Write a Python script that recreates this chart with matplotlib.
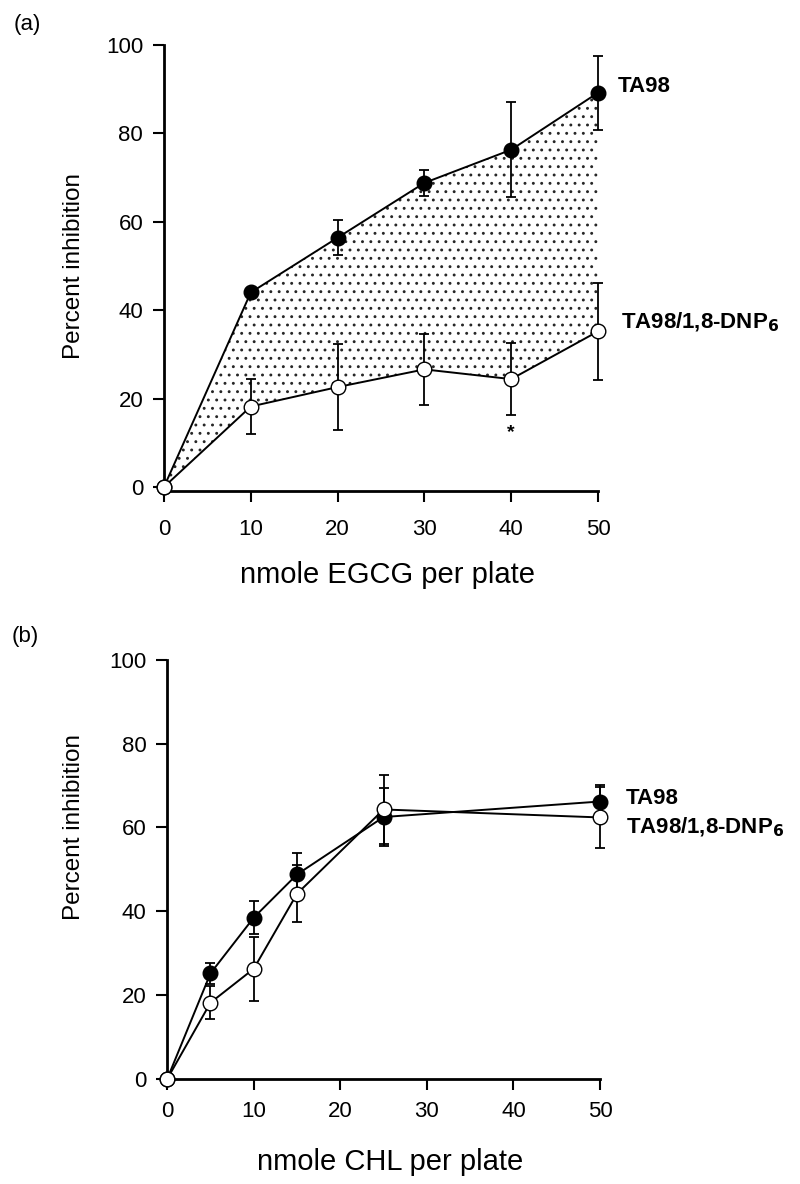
import matplotlib
matplotlib.use('Agg')
import matplotlib.pyplot as plt

plt.rcParams['font.family'] = ['Liberation Sans', 'DejaVu Sans']
plt.rcParams['hatch.linewidth'] = 0.9

# Panel (a): EGCG
egcg_dose = [0, 10, 20, 30, 40, 50]
egcg_ta98 = [0, 44.0, 56.4, 68.8, 76.3, 89.2]
egcg_ta98_err = [0, 1.0, 4.0, 3.0, 10.8, 8.4]
egcg_dnp = [0, 18.2, 22.6, 26.6, 24.4, 35.2]
egcg_dnp_err = [0, 6.3, 9.7, 8.1, 8.2, 10.9]

# Panel (b): CHL
chl_dose = [0, 5, 10, 15, 25, 50]
chl_ta98 = [0, 25.2, 38.5, 48.8, 62.5, 66.2]
chl_ta98_err = [0, 2.5, 4.0, 5.0, 7.0, 4.0]
chl_dnp = [0, 18.2, 26.3, 44.2, 64.3, 62.4]
chl_dnp_err = [0, 4.0, 7.6, 6.8, 8.3, 7.2]

label_ta98 = 'TA98'
label_dnp = r'TA98/1,8-DNP$_\mathbf{6}$'
yticks = [0, 20, 40, 60, 80, 100]
xticks = [0, 10, 20, 30, 40, 50]

fig = plt.figure(figsize=(8, 11.84), dpi=100)
ax1 = fig.add_axes([0.205, 0.5850, 0.5425, 0.3770])
ax2 = fig.add_axes([0.209, 0.0887, 0.541, 0.354])


def style_axes(ax, xlabel, ymin, xpad):
    ax.set_xlim(0, 50)
    ax.set_ylim(ymin, 100)
    ax.set_xticks(xticks)
    ax.set_yticks(yticks)
    for s in ['top', 'right']:
        ax.spines[s].set_visible(False)
    for s in ['left', 'bottom']:
        ax.spines[s].set_linewidth(2.0)
    ax.tick_params(direction='out', length=8, width=1.5, labelsize=16, pad=7)
    ax.tick_params(axis='x', pad=xpad)
    ax.set_xlabel(xlabel, fontsize=21)
    ax.set_ylabel('Percent inhibition', fontsize=17.5)


def draw_series(ax, x, y, err, filled):
    ax.errorbar(x, y, yerr=err, fmt='none', ecolor='black', elinewidth=1.3,
                capsize=3.5, capthick=1.3, zorder=3, clip_on=False)
    ax.plot(x, y, color='black', linewidth=1.4, zorder=4, clip_on=False,
            marker='o', markersize=10.5,
            markerfacecolor='black' if filled else 'white',
            markeredgecolor='black', markeredgewidth=1.0)


# ---- panel (a)
ax1.fill_between(egcg_dose, egcg_dnp, egcg_ta98, facecolor='none',
                 edgecolor='0.15', hatch='..', linewidth=0, zorder=1)
draw_series(ax1, egcg_dose, egcg_ta98, egcg_ta98_err, True)
draw_series(ax1, egcg_dose, egcg_dnp, egcg_dnp_err, False)
ax1.text(40, 12.4, '*', ha='center', va='center', fontsize=14, fontweight='bold')
style_axes(ax1, 'nmole EGCG per plate', -1, 12)
ax1.xaxis.set_label_coords(0.516, -0.155)
ax1.yaxis.set_label_coords(-0.182, 0.505)
ax1.text(52.3, egcg_ta98[-1] + 1.5, label_ta98, fontsize=16, fontweight='bold',
         va='center', ha='left')
ax1.text(52.6, egcg_dnp[-1] + 2.0, label_dnp, fontsize=16, fontweight='bold',
         va='center', ha='left')
fig.text(0.034, 0.979, '(a)', fontsize=16, va='center', ha='center')

# ---- panel (b)
draw_series(ax2, chl_dose, chl_ta98, chl_ta98_err, True)
draw_series(ax2, chl_dose, chl_dnp, chl_dnp_err, False)
style_axes(ax2, 'nmole CHL per plate', 0, 8)
ax2.xaxis.set_label_coords(0.515, -0.165)
ax2.yaxis.set_label_coords(-0.19, 0.6)
ax2.text(53.0, 67.0, label_ta98, fontsize=16, fontweight='bold',
         va='center', ha='left')
ax2.text(53.0, 60.0, label_dnp, fontsize=16, fontweight='bold',
         va='center', ha='left')
fig.text(0.032, 0.462, '(b)', fontsize=16, va='center', ha='center')

plt.savefig('out.png', dpi=100)
print("Saved: out.png")
